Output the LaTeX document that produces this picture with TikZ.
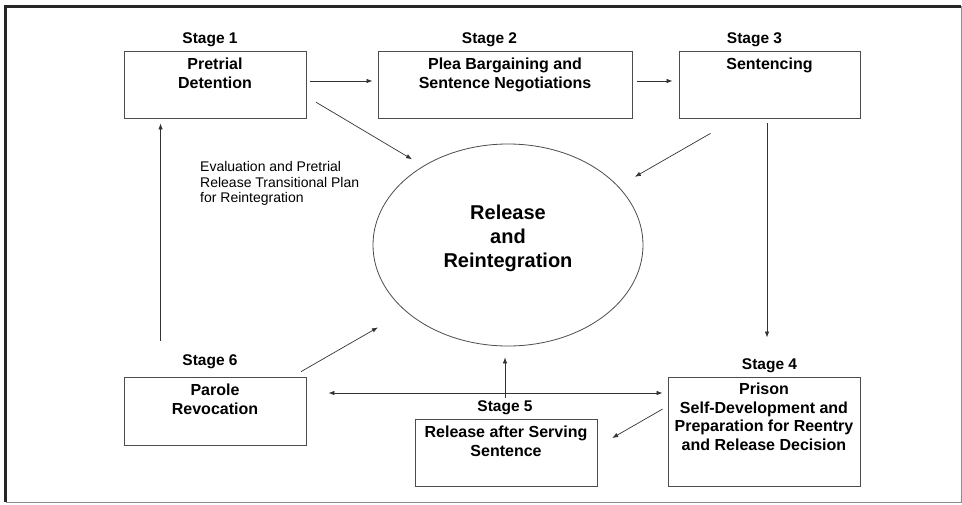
\documentclass[tikz,border=0pt]{standalone}
\usepackage{fontspec}
\setmainfont{Liberation Sans}
\usetikzlibrary{arrows.meta,shapes.geometric,positioning}

\tikzset{
  stagebox/.style={draw=black!70, line width=0.9pt, inner sep=0pt},
  stagename/.style={font=\fontsize{15.5}{18.5}\selectfont\bfseries, inner sep=2pt, anchor=base},
  boxtext/.style={font=\fontsize{16}{18.5}\selectfont\bfseries, align=center, inner sep=0pt, anchor=north},
  arr/.style={draw=black!80, line width=0.7pt, -{Latex[length=6pt,width=4.5pt]}},
}

\begin{document}
\begin{tikzpicture}[x=1pt,y=-1pt]
\useasboundingbox (0,0) rectangle (962,504);
% frame
\draw[black!45, line width=1pt] (5.5,6) -| (961,502) -- (5.5,502);
\draw[black!85, line width=3pt] (5.5,502) -- (5.5,6) -- (961,6);

% centre
\node[ellipse, draw=black!70, line width=0.8pt, minimum width=270pt, minimum height=202pt, inner sep=0pt] (rr) at (508,245) {};
\node[font=\fontsize{20}{24}\selectfont\bfseries, align=center] (rrtext) at (508,238) {Release\\and\\Reintegration};

% stages
\node[stagebox, minimum width=182pt, minimum height=67pt] (s1) at (215,84.5) {};
\node[stagebox, minimum width=254pt, minimum height=67pt] (s2) at (505,84.5) {};
\node[stagebox, minimum width=181pt, minimum height=67pt] (s3) at (769.5,84.5) {};
\node[stagebox, minimum width=192pt, minimum height=109pt] (s4) at (764,431.5) {};
\node[stagebox, minimum width=182pt, minimum height=67pt] (s5) at (506,452.5) {};
\node[stagebox, minimum width=182pt, minimum height=68pt] (s6) at (215,411) {};

\node[boxtext, below=7.5pt of s1.north] (t1) {Pretrial\\Detention};
\node[boxtext, below=7.5pt of s2.north] (t2) {Plea Bargaining and\\Sentence Negotiations};
\node[boxtext, below=7.5pt of s3.north] (t3) {Sentencing};
\node[boxtext, below=6.5pt of s4.north] (t4) {Prison\\Self-Development and\\Preparation for Reentry\\and Release Decision};
\node[boxtext, below=7.5pt of s5.north] (t5) {Release after Serving\\Sentence};
\node[boxtext, below=7.5pt of s6.north] (t6) {Parole\\Revocation};

\node[stagename] (lab1) at (210,43) {Stage 1};
\node[stagename] (lab2) at (489.5,43) {Stage 2};
\node[stagename] (lab3) at (754.5,43) {Stage 3};
\node[stagename] (lab4) at (769.5,369) {Stage 4};
\node[stagename] (lab5) at (505,411) {Stage 5};
\node[stagename] (lab6) at (210,365) {Stage 6};

\node[font=\fontsize{14}{15.5}\selectfont, align=left, anchor=north west, inner sep=0pt] (note) at (200,161.5) {Evaluation and Pretrial\\Release Transitional Plan\\for Reintegration};

% arrows
\draw[arr, shorten <=4pt, shorten >=5pt] ([yshift=3.5pt]s1.east) -- ([yshift=3.5pt]s2.west);
\draw[arr, shorten <=5pt, shorten >=6pt] ([yshift=3.5pt]s2.east) -- ([yshift=3.5pt]s3.west);
\draw[arr, shorten <=11pt, shorten >=13pt] ([yshift=-12pt]s1.east) -- (rr.137);
\draw[arr, shorten <=30pt, shorten >=19pt] ([xshift=-33pt]s3.south) -- (rr.28);
\draw[arr, shorten <=5pt, shorten >=39pt] ([xshift=-2.5pt]s3.south) -- ([xshift=3pt]s4.north);
\draw[arr, shorten <=10pt, shorten >=32pt] ([xshift=-14pt]s6.north east) -- (rr.213);
\draw[arr, shorten <=36pt, shorten >=5pt] ([xshift=37pt]s6.north west) -- ([xshift=37pt]s1.south west);
\draw[arr, {Latex[length=6pt,width=4.5pt]}-{Latex[length=6pt,width=4.5pt]}, shorten <=22pt, shorten >=5pt] ([yshift=18pt]s6.east) -- ([yshift=18pt]s6.east -| s4.west);
\draw[arr, shorten >=11pt] (lab5.north) -- (lab5.north |- rr.south);
\draw[arr, shorten <=5.7pt, shorten >=17pt] ([yshift=25.3pt]s4.west) -- ([yshift=6pt]s5.east);
\end{tikzpicture}
\end{document}
